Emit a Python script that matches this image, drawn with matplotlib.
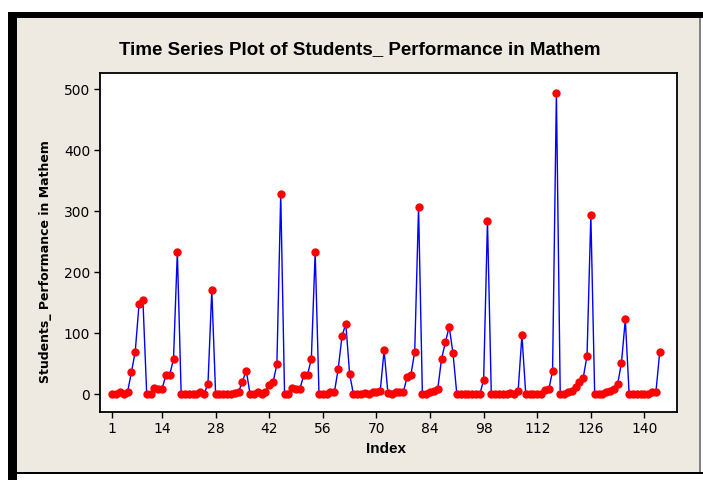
import matplotlib
matplotlib.use("Agg")
import matplotlib.pyplot as plt
from matplotlib.patches import Rectangle
import numpy as np

# Data (index 1..144)
values = [
    0, 0, 3, 0, 4, 36, 70, 148, 155, 1,
    1, 11, 9, 9, 31, 32, 58, 234, 0, 0,
    0, 0, 0, 3, 1, 17, 171, 0, 0, 0,
    0, 0, 2, 4, 21, 39, 0, 0, 3, 1,
    4, 15, 20, 49, 328, 1, 1, 11, 9, 9,
    31, 32, 58, 234, 0, 0, 1, 3, 3, 41,
    95, 116, 33, 0, 0, 0, 2, 1, 3, 4,
    6, 72, 2, 0, 3, 4, 3, 28, 32, 70,
    307, 0, 0, 4, 6, 8, 58, 85, 111, 67,
    0, 0, 0, 0, 0, 0, 0, 24, 285, 0,
    0, 0, 0, 0, 2, 1, 5, 97, 0, 0,
    0, 0, 0, 7, 8, 38, 495, 0, 1, 3,
    5, 12, 21, 27, 63, 294, 0, 0, 1, 3,
    5, 9, 17, 52, 123, 0, 0, 0, 0, 0,
    0, 3, 4, 70,
]
index = list(range(1, len(values) + 1))
x_ticks = [1, 14, 28, 42, 56, 70, 84, 98, 112, 126, 140]
y_ticks = [0, 100, 200, 300, 400, 500]

title = "Time Series Plot of Students_ Performance in Mathem"
ylabel = "Students_ Performance in Mathem"
xlabel = "Index"

W, H = 703, 480
fig = plt.figure(figsize=(W / 100, H / 100), dpi=100)
fig.patch.set_facecolor("white")

beige = "#EEEAE1"
# window-like frame
def frect(x0, y0, w, h, color, z):
    fig.patches.append(Rectangle((x0 / W, 1 - (y0 + h) / H), w / W, h / H,
                                 transform=fig.transFigure, facecolor=color,
                                 edgecolor="none", zorder=z))

frect(17, 18, 683, 454, beige, -2)
frect(8, 12, 9, 468, "black", -1)
frect(8, 12, 695, 6, "black", -1)
frect(17, 472, 686, 2, "black", -1)
frect(699, 18, 1.5, 454, "#808080", -1)

ax = fig.add_axes([100 / W, 1 - 412 / H, (677 - 100) / W, (412 - 73) / H])
ax.set_zorder(5)
ax.set_facecolor("white")
ax.plot(index, values, color="#0000FF", linewidth=1.0, zorder=2)
ax.plot(index, values, linestyle="none", marker="o", markersize=5,
        markerfacecolor="#FF0000", markeredgecolor="#FF0000", zorder=3)

ax.set_xlim(-2.2, 148.5)
ax.set_ylim(-29, 527)
ax.set_xticks(x_ticks)
ax.set_yticks(y_ticks)
for s in ax.spines.values():
    s.set_linewidth(1.3)
    s.set_color("black")
ax.tick_params(direction="out", length=4, width=1, labelsize=10, colors="black", pad=3)
for lab in ax.get_xticklabels() + ax.get_yticklabels():
    lab.set_family("DejaVu Sans")

fig.text(360 / W, 1 - 50 / H, title, ha="center", va="center",
         fontsize=13.5, fontweight="bold", family="Liberation Sans")
fig.text(46 / W, 1 - 262 / H, ylabel, ha="center", va="center", rotation=90,
         fontsize=9, fontweight="bold", family="DejaVu Sans")
fig.text(386 / W, 1 - 449 / H, xlabel, ha="center", va="center",
         fontsize=11, fontweight="bold", family="Liberation Sans")

fig.savefig("out.png", dpi=100)
